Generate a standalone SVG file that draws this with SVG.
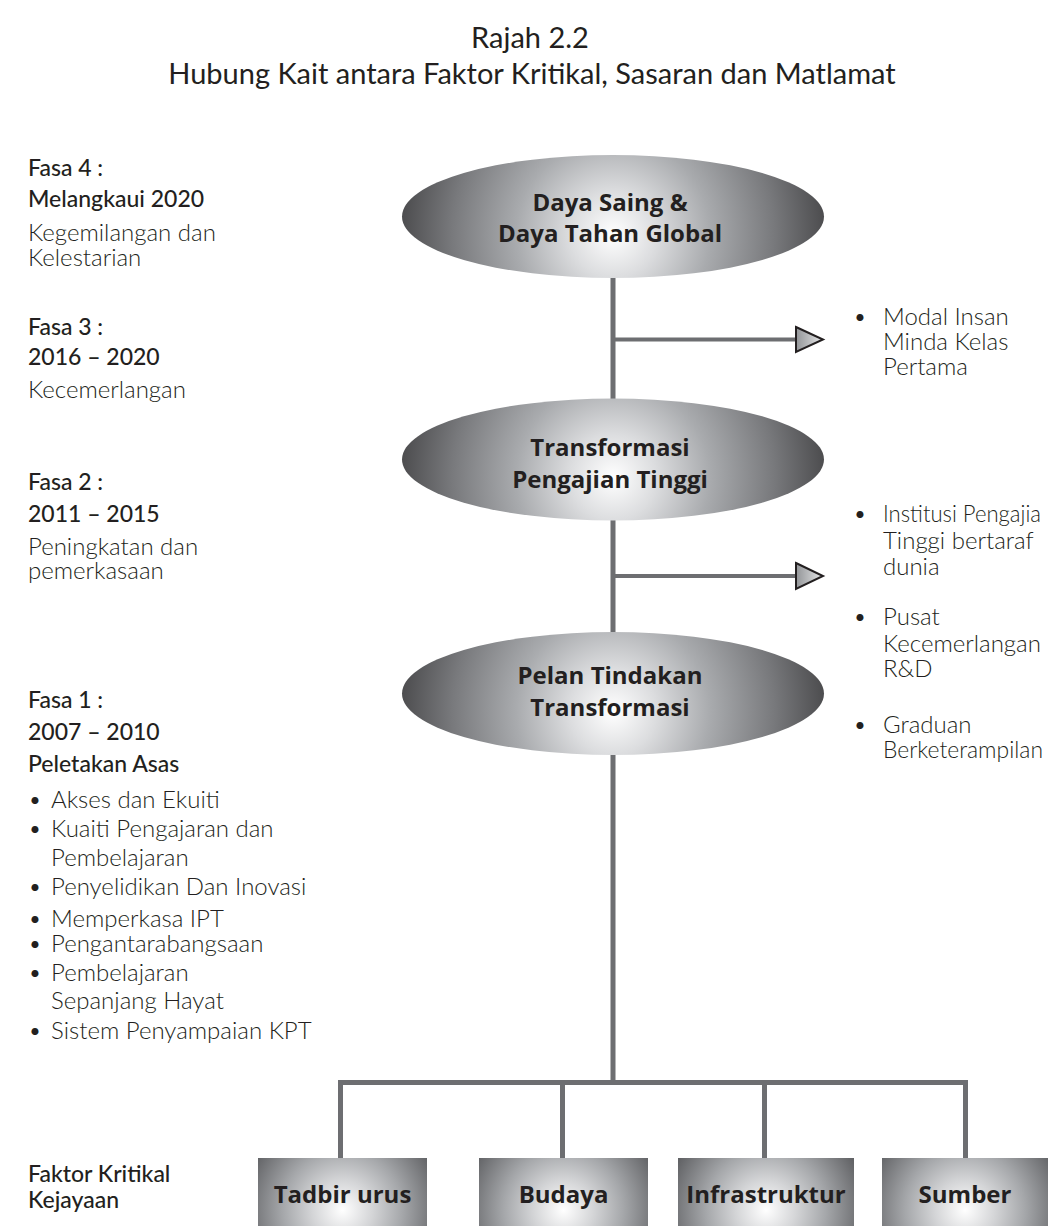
<svg xmlns="http://www.w3.org/2000/svg" width="1050" height="1226" viewBox="0 0 1050 1226">
<style>
text{font-family:Lato,"Open Sans","Liberation Sans",sans-serif;fill:#231f20}
.title{font-size:29px;font-weight:400;text-anchor:middle}
.ell{font-family:"Open Sans",Lato,"Liberation Sans",sans-serif;font-size:24px;font-weight:700;text-anchor:middle}
.box{font-family:"Open Sans",Lato,"Liberation Sans",sans-serif;font-size:24px;font-weight:700;text-anchor:middle}
.med{font-size:23px;font-weight:500}
.lt{font-size:24px;font-weight:300}
.ln{stroke:#6d6e71;fill:none}
.ah{stroke:#231f20;stroke-width:2;fill:url(#ag);stroke-linejoin:miter}
</style>
<defs>
<radialGradient id="eg" gradientUnits="userSpaceOnUse" cx="0" cy="18" r="215">
<stop offset="0" stop-color="#ffffff"/>
<stop offset="0.2" stop-color="#dcdddf"/>
<stop offset="0.45" stop-color="#a9abae"/>
<stop offset="0.75" stop-color="#78797c"/>
<stop offset="1" stop-color="#4a4a4c"/>
</radialGradient>
<radialGradient id="bg" gradientUnits="userSpaceOnUse" cx="0" cy="52" r="100">
<stop offset="0" stop-color="#ffffff"/>
<stop offset="0.3" stop-color="#d4d5d7"/>
<stop offset="0.6" stop-color="#a5a7aa"/>
<stop offset="1" stop-color="#626366"/>
</radialGradient>
<linearGradient id="ag" x1="0" y1="0" x2="1" y2="0">
<stop offset="0" stop-color="#939598"/>
<stop offset="1" stop-color="#e6e7e8"/>
</linearGradient>
</defs>

<g id="title">
<text class="title" x="530" y="48">Rajah 2.2</text>
<text class="title" x="532" y="84">Hubung Kait antara Faktor Kritikal, Sasaran dan Matlamat</text>
</g>

<g id="connectors">
<line class="ln" x1="613" y1="270" x2="613" y2="1083" stroke-width="5"/>
<line class="ln" x1="615" y1="339.5" x2="797" y2="339.5" stroke-width="4"/>
<polygon class="ah" points="796,327 823,339.5 796,352"/>
<line class="ln" x1="615" y1="576" x2="797" y2="576" stroke-width="4"/>
<polygon class="ah" points="796,563 823,576 796,589"/>
<polyline class="ln" points="340.5,1158 340.5,1082.5 965.5,1082.5 965.5,1158" stroke-width="5"/>
<line class="ln" x1="562.5" y1="1082" x2="562.5" y2="1158" stroke-width="5"/>
<line class="ln" x1="764.5" y1="1082" x2="764.5" y2="1158" stroke-width="5"/>
</g>

<g id="node-daya-saing" transform="translate(613,216.5)">
<ellipse cx="0" cy="0" rx="211" ry="61.5" fill="url(#eg)"/>
<text class="ell" x="-3" y="-6">Daya Saing &amp;</text>
<text class="ell" x="-3" y="25">Daya Tahan Global</text>
</g>

<g id="node-transformasi-pt" transform="translate(613,459.5)">
<ellipse cx="0" cy="0" rx="211" ry="61" fill="url(#eg)"/>
<text class="ell" x="-3" y="-4">Transformasi</text>
<text class="ell" x="-3" y="28">Pengajian Tinggi</text>
</g>

<g id="node-pelan-tindakan" transform="translate(613,693.5)">
<ellipse cx="0" cy="0" rx="211" ry="61.5" fill="url(#eg)"/>
<text class="ell" x="-3" y="-10">Pelan Tindakan</text>
<text class="ell" x="-3" y="22">Transformasi</text>
</g>

<g id="node-tadbir" transform="translate(342.5,1158)">
<rect x="-84.5" y="0" width="169" height="68" fill="url(#bg)"/>
<text class="box" x="0" y="45">Tadbir urus</text>
</g>
<g id="node-budaya" transform="translate(563.5,1158)">
<rect x="-84.5" y="0" width="169" height="68" fill="url(#bg)"/>
<text class="box" x="0" y="45">Budaya</text>
</g>
<g id="node-infrastruktur" transform="translate(766,1158)">
<rect x="-88" y="0" width="176" height="68" fill="url(#bg)"/>
<text class="box" x="0" y="45">Infrastruktur</text>
</g>
<g id="node-sumber" transform="translate(965,1158)">
<rect x="-83" y="0" width="166" height="68" fill="url(#bg)"/>
<text class="box" x="0" y="45">Sumber</text>
</g>

<g id="phases">
<text class="med" x="28" y="176">Fasa 4 :</text>
<text class="med" x="28" y="207">Melangkaui 2020</text>
<text class="lt" x="28" y="241">Kegemilangan dan</text>
<text class="lt" x="28" y="266">Kelestarian</text>

<text class="med" x="28" y="335">Fasa 3 :</text>
<text class="med" x="28" y="365">2016 – 2020</text>
<text class="lt" x="28" y="398">Kecemerlangan</text>

<text class="med" x="28" y="490">Fasa 2 :</text>
<text class="med" x="28" y="522">2011 – 2015</text>
<text class="lt" x="28" y="555">Peningkatan dan</text>
<text class="lt" x="28" y="579">pemerkasaan</text>

<text class="med" x="28" y="708">Fasa 1 :</text>
<text class="med" x="28" y="740">2007 – 2010</text>
<text class="med" x="28" y="772">Peletakan Asas</text>

<text class="lt" y="808"><tspan x="28">•</tspan><tspan x="51">Akses dan Ekuiti</tspan></text>
<text class="lt" y="837"><tspan x="28">•</tspan><tspan x="51">Kuaiti Pengajaran dan</tspan></text>
<text class="lt" x="51" y="866">Pembelajaran</text>
<text class="lt" y="895"><tspan x="28">•</tspan><tspan x="51">Penyelidikan Dan Inovasi</tspan></text>
<text class="lt" y="927"><tspan x="28">•</tspan><tspan x="51">Memperkasa IPT</tspan></text>
<text class="lt" y="952"><tspan x="28">•</tspan><tspan x="51">Pengantarabangsaan</tspan></text>
<text class="lt" y="981"><tspan x="28">•</tspan><tspan x="51">Pembelajaran</tspan></text>
<text class="lt" x="51" y="1009">Sepanjang Hayat</text>
<text class="lt" y="1039"><tspan x="28">•</tspan><tspan x="51">Sistem Penyampaian KPT</tspan></text>

<text class="med" x="28" y="1182">Faktor Kritikal</text>
<text class="med" x="28" y="1208">Kejayaan</text>
</g>

<g id="targets">
<text class="lt" y="325"><tspan x="853">•</tspan><tspan x="883">Modal Insan</tspan></text>
<text class="lt" x="883" y="350">Minda Kelas</text>
<text class="lt" x="883" y="375">Pertama</text>

<text class="lt" x="853" y="522">•</text>
<text class="lt" x="883" y="522" textLength="158" lengthAdjust="spacingAndGlyphs">Institusi Pengajia</text>
<text class="lt" x="883" y="549">Tinggi bertaraf</text>
<text class="lt" x="883" y="575">dunia</text>

<text class="lt" y="625"><tspan x="853">•</tspan><tspan x="883">Pusat</tspan></text>
<text class="lt" x="883" y="652">Kecemerlangan</text>
<text class="lt" x="883" y="677">R&amp;D</text>

<text class="lt" y="733"><tspan x="853">•</tspan><tspan x="883">Graduan</tspan></text>
<text class="lt" x="883" y="758" textLength="160" lengthAdjust="spacingAndGlyphs">Berketerampilan</text>
</g>
</svg>
